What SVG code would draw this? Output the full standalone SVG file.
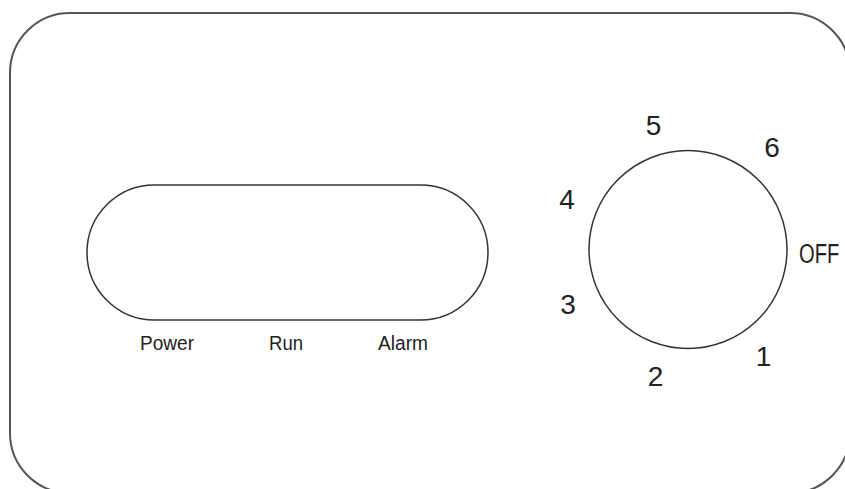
<svg xmlns="http://www.w3.org/2000/svg" width="845" height="489" viewBox="0 0 845 489">
<style>
.ln{fill:none;stroke:#333;stroke-width:1.5}
.lbl{font-family:"Liberation Sans",Arial,sans-serif;font-size:20px;fill:#222}
.num{font-family:"Liberation Sans",Arial,sans-serif;font-size:28px;fill:#222;text-anchor:middle}
</style>
<rect width="845" height="489" fill="#fff"/>
<g id="panel">
<rect class="ln" x="10" y="13" width="840" height="480" rx="60" ry="60" style="stroke:#555;stroke-width:2"/>
</g>
<g id="display">
<rect class="ln" x="87" y="185" width="401" height="135" rx="67.5" ry="67.5"/>
<text class="lbl" x="140" y="350" textLength="54" lengthAdjust="spacingAndGlyphs">Power</text>
<text class="lbl" x="269" y="350" textLength="34" lengthAdjust="spacingAndGlyphs">Run</text>
<text class="lbl" x="378" y="350" textLength="50" lengthAdjust="spacingAndGlyphs">Alarm</text>
</g>
<g id="dial">
<circle class="ln" cx="688" cy="249.5" r="99"/>
<text class="num" x="653.5" y="135">5</text>
<text class="num" x="772" y="157">6</text>
<text class="num" x="567" y="209">4</text>
<text class="num" x="0" y="0" style="text-anchor:start" transform="translate(799,263) scale(0.72,1)">OFF</text>
<text class="num" x="568" y="314">3</text>
<text class="num" x="655.5" y="386">2</text>
<text class="num" x="763.5" y="366">1</text>
</g>
</svg>
